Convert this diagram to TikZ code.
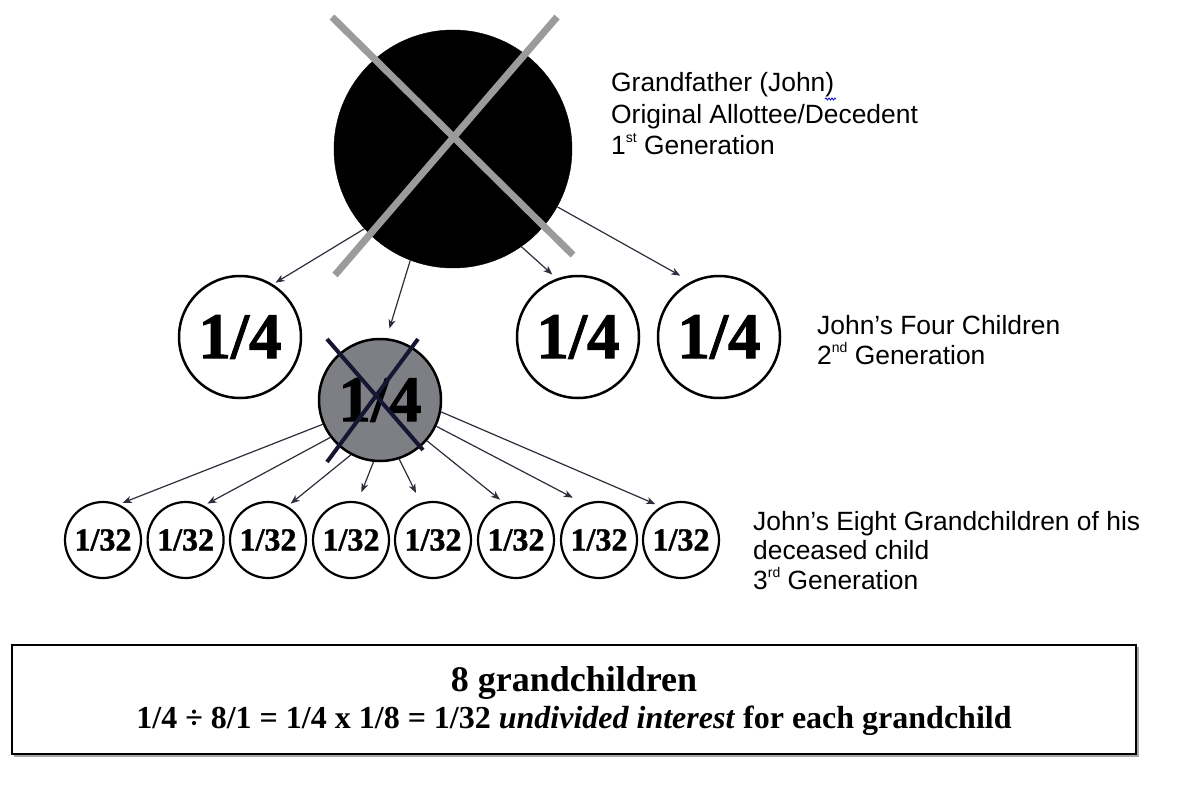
\documentclass[tikz,border=0pt]{standalone}
\usepackage{fontspec}
\setmainfont{Liberation Serif}
\newfontfamily\arialfont{Liberation Sans}
\usetikzlibrary{arrows.meta,decorations.pathmorphing,calc}
\definecolor{grayfill}{RGB}{125,127,132}
\definecolor{crossgray}{RGB}{155,155,155}
\definecolor{crossdark}{RGB}{22,22,50}
\definecolor{arrowcol}{RGB}{45,45,60}
\newcommand{\supx}[1]{\smash{\raisebox{0.45em}{\fontsize{14}{14}\selectfont #1}}}
\begin{document}
\begin{tikzpicture}[x=1pt,y=-1pt,
  kidnode/.style={circle,draw=black,line width=2.5pt,minimum size=122pt,inner sep=0pt,font=\fontsize{65}{65}\selectfont\bfseries\addfontfeatures{FakeBold=1.5}},
  grandnode/.style={circle,draw=black,line width=2.2pt,minimum size=74pt,inner sep=0pt,font=\fontsize{32}{32}\selectfont\bfseries\addfontfeatures{FakeBold=1.2}},
  conn/.style={draw=arrowcol,line width=1.2pt,-{Stealth[length=9pt,width=7pt,inset=2.5pt]}},
  lbl/.style={anchor=base west,inner sep=0pt,font=\arialfont\fontsize{26.4}{30}\selectfont},
  ]
\useasboundingbox (0,0) rectangle (1187,800);
\fill[white] (0,0) rectangle (1187,800);

% grandfather
\node[circle,fill=black,draw=black,minimum size=238pt,inner sep=0pt] (big) at (453,149) {};
\draw[crossgray,line width=7pt] ($(big.center)+(-121,-132)$) -- ($(big.center)+(120,106)$);
\draw[crossgray,line width=7pt] ($(big.center)+(104,-132)$) -- ($(big.center)+(-118,126)$);

% children
\node[kidnode] (c1) at (240,337) {1/4};
\node[kidnode,fill=grayfill] (gd) at (380,400) {1/4};
\node[kidnode] (c3) at (578,337) {1/4};
\node[kidnode] (c4) at (719,337) {1/4};
\draw[crossdark,line width=4pt] ($(gd.center)+(-53,-61)$) -- ($(gd.center)+(43,50)$);
\draw[crossdark,line width=4pt] ($(gd.center)+(38,-61)$) -- ($(gd.center)+(-53,62)$);

% grandchildren
\foreach \i/\x in {1/103,2/185.6,3/268,4/351,5/433,6/516,7/599,8/681}
  \node[grandnode,minimum height=76pt] (g\i) at (\x,540) {1/32};

% connectors from grandfather
\draw[conn,shorten >=3pt] (big.222) -- (c1.58);
\draw[conn,shorten >=10pt] (big.249) -- (gd.84);
\draw[conn,shorten >=6pt] (big.305) -- (c3.110);
\draw[conn,shorten >=12pt] (big.331) -- (c4.117);

% connectors from deceased child
\draw[conn,shorten >=4pt] (gd.203) -- (g1.66);
\draw[conn,shorten >=4pt] (gd.217) -- (g2.62);
\draw[conn,shorten >=4pt] (gd.242) -- (g3.60);
\draw[conn,shorten >=10pt] (gd.264) -- (g4.80);
\draw[conn,shorten >=11pt] (gd.288) -- (g5.108);
\draw[conn,shorten >=5pt] (gd.319) -- (g6.108);
\draw[conn,shorten >=13pt] (gd.335) -- (g7.112);
\draw[conn,shorten >=6pt] (gd.349) -- (g8.121);

% labels
\node[lbl] (la1) at (611,92) {Grandfather (John)};
\node[lbl] (la2) at (611,123) {Original Allottee/Decedent};
\node[lbl] (la3) at (611,154) {1\supx{st} Generation};
\draw[blue!80!black,line width=0.8pt,decorate,decoration={snake,amplitude=1pt,segment length=3pt}] (825,99) -- (836,99);

\node[lbl] (lb1) at (817,334) {John’s Four Children};
\node[lbl] (lb2) at (817,364) {2\supx{nd} Generation};

\node[lbl] (lc1) at (753,530) {John’s Eight Grandchildren of his};
\node[lbl] (lc2) at (753,559) {deceased child};
\node[lbl] (lc3) at (753,589) {3\supx{rd} Generation};

% bottom box
\draw[gray!70,line width=2pt] (14,756) -- (1138,756) -- (1138,647);
\node[draw=black,line width=2pt,minimum width=1124pt,minimum height=109pt,inner sep=0pt] (box) at (574,699.5) {};
\node[anchor=base,inner sep=0pt,font=\fontsize{36}{36}\selectfont\bfseries] (t1) at (574,691) {8 grandchildren};
\node[anchor=base,inner sep=0pt,font=\fontsize{32}{32}\selectfont\bfseries] (t2) at (574,728) {1/4 ÷ 8/1 = 1/4 x 1/8 = 1/32 \textit{undivided interest} for each grandchild};
\end{tikzpicture}
\end{document}
